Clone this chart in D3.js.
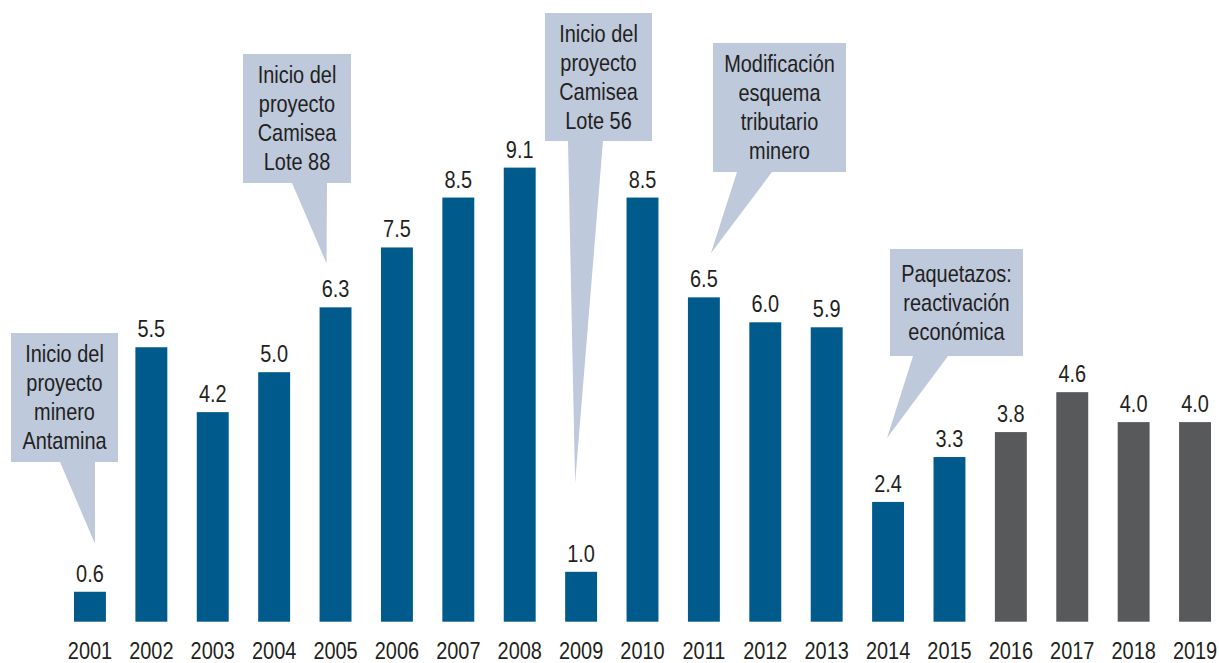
<!DOCTYPE html>
<html>
    <head>
        <meta charset="UTF-8">
        <title>Crecimiento</title>
        <style>
            body { margin: 0; background: #fff; }
            svg text { font-family: "Liberation Sans", Arial, sans-serif; fill: #231f20; }
        </style>
    </head>
    <body>
        <script src="https://d3js.org/d3.v7.min.js"></script>
        <svg></svg>
        <script>
            let years = ["2001","2002","2003","2004","2005","2006","2007","2008","2009","2010",
                         "2011","2012","2013","2014","2015","2016","2017","2018","2019"];
            let values = [0.6, 5.5, 4.2, 5.0, 6.3, 7.5, 8.5, 9.1, 1.0, 8.5,
                          6.5, 6.0, 5.9, 2.4, 3.3, 3.8, 4.6, 4.0, 4.0];
            let projected = ["2016","2017","2018","2019"];

            let noteYears = ["2001", "2005", "2009", "2011", "2014"];
            let noteTexts = [
                ["Inicio del", "proyecto", "minero", "Antamina"],
                ["Inicio del", "proyecto", "Camisea", "Lote 88"],
                ["Inicio del", "proyecto", "Camisea", "Lote 56"],
                ["Modificación", "esquema", "tributario", "minero"],
                ["Paquetazos:", "reactivación", "económica"]
            ];

            // layout of the callout boxes (box, pointer base, tip offset from bar top)
            let noteLayout = [
                {x: 11,  y: 333, w: 107, h: 129, bl: 60,  br: 95,  dx: 5,  dy: 48},
                {x: 243, y: 54,  w: 108, h: 129, bl: 292, br: 327, dx: -9, dy: 44},
                {x: 545, y: 13,  w: 107, h: 128, bl: 568, br: 603, dx: -6, dy: 89},
                {x: 713, y: 43,  w: 133, h: 129, bl: 737, br: 772, dx: 7,  dy: 44},
                {x: 890, y: 249, w: 133, h: 107, bl: 913, br: 948, dx: -1, dy: 64}
            ];

            // the original uses a condensed face; squeeze Liberation Sans instead
            let squeeze = "scale(0.83,1)";

            let data = years.map((y, i) => ({year: y, value: values[i]}));

            let svg = d3.select("svg")
                .attr("width", 1219)
                .attr("height", 663);

            let xScale = d3.scaleBand()
                .domain(years)
                .range([74, 1211])
                .paddingInner(0.48)
                .paddingOuter(0);
            let yScale = d3.scaleLinear()
                .domain([0, 10])
                .range([621.7, 122.7]);

            let bw = xScale.bandwidth();

            svg.selectAll("rect.bar")
                .data(data)
                .enter()
                .append("rect")
                .attr("class", "bar")
                .attr("x", d => xScale(d.year))
                .attr("y", d => yScale(d.value))
                .attr("width", bw)
                .attr("height", d => yScale(0) - yScale(d.value))
                .attr("fill", d => projected.includes(d.year) ? "#58595b" : "#005a8c");

            svg.selectAll("text.val")
                .data(data)
                .enter()
                .append("text")
                .attr("class", "val")
                .attr("transform", d => "translate(" + (xScale(d.year) + bw / 2) + "," + (yScale(d.value) - 10) + ") " + squeeze)
                .attr("text-anchor", "middle")
                .style("font-size", "24px")
                .text(d => d.value.toFixed(1));

            let axis = svg.append("g")
                .attr("transform", "translate(0," + yScale(0) + ")")
                .call(d3.axisBottom(xScale).tickSize(0).tickPadding(20));
            axis.select(".domain").remove();
            axis.selectAll("text")
                .attr("transform", squeeze)
                .style("font-size", "24px")
                .attr("fill", "#231f20");

            // callouts
            noteYears.forEach((yr, i) => {
                let L = noteLayout[i];
                let v = values[years.indexOf(yr)];
                let tx = xScale(yr) + bw / 2 + L.dx;
                let ty = yScale(v) - L.dy;
                let x1 = L.x + L.w, y1 = L.y + L.h;
                let p = d3.path();
                p.moveTo(L.x, L.y);
                p.lineTo(x1, L.y);
                p.lineTo(x1, y1);
                p.lineTo(L.br, y1);
                p.lineTo(tx, ty);
                p.lineTo(L.bl, y1);
                p.lineTo(L.x, y1);
                p.closePath();
                svg.append("path")
                    .attr("d", p.toString())
                    .attr("fill", "#bec9dc");

                let lines = noteTexts[i];
                let lh = 29;
                let blockTop = L.y + L.h / 2 - ((lines.length - 1) * lh + 17) / 2;
                let t = svg.append("text")
                    .attr("transform", "translate(" + (L.x + L.w / 2) + ",0) " + squeeze)
                    .attr("text-anchor", "middle")
                    .style("font-size", "24px");
                lines.forEach((ln, j) => {
                    t.append("tspan")
                        .attr("x", 0)
                        .attr("y", blockTop + 17 + j * lh)
                        .text(ln);
                });
            });
        </script>
    </body>
</html>
